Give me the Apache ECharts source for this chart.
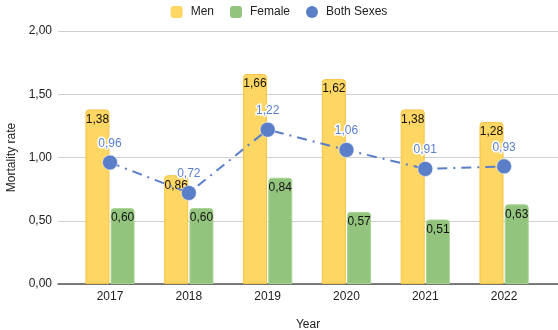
<!DOCTYPE html>
<html>
<head>
<meta charset="utf-8">
<script src="https://cdn.jsdelivr.net/npm/echarts@6/dist/echarts.min.js"></script>
<style>html,body{margin:0;padding:0;background:#fff}#c{width:558px;height:330px}</style>
</head>
<body>
<div id="c"></div>
<script>
const years = ['2017','2018','2019','2020','2021','2022'];
const men = [1.38, 0.86, 1.66, 1.62, 1.38, 1.28];
const female = [0.60, 0.60, 0.84, 0.57, 0.51, 0.63];
const both = [0.96, 0.72, 1.22, 1.06, 0.91, 0.93];
const yTicks = [0, 0.5, 1, 1.5, 2];

const fmt = v => Number(v).toFixed(2).replace('.', ',');
const FONT = 'Liberation Sans, Arial, sans-serif';
const chart = echarts.init(document.getElementById('c'));
chart.setOption({
  animation: false,
  textStyle: { fontFamily: FONT },
  legend: {
    top: 1, left: 'center', itemWidth: 12, itemHeight: 12, itemGap: 16,
    textStyle: { fontSize: 12, color: '#222', fontFamily: FONT, padding: [0, 0, 0, 3] },
    itemStyle: { borderWidth: 0 },
    data: [
      { name: 'Men', icon: 'roundRect' },
      { name: 'Female', icon: 'roundRect' },
      { name: 'Both Sexes', icon: 'circle' }
    ]
  },
  grid: [
    { left: 58, right: 0, top: 31, bottom: 46, outerBoundsMode: 'none', containLabel: false },
    { left: 70.6, right: 14.5, top: 31, bottom: 46, outerBoundsMode: 'none', containLabel: false }
  ],
  xAxis: [
    { type: 'category', gridIndex: 0, data: [''],
      axisLine: { show: true, lineStyle: { color: '#555', width: 1.5 } },
      axisTick: { show: false }, axisLabel: { show: false },
      name: 'Year', nameLocation: 'middle', nameGap: 35,
      nameTextStyle: { fontSize: 12, color: '#222', fontFamily: FONT } },
    { type: 'category', gridIndex: 1, data: years,
      axisLine: { show: false }, axisTick: { show: false },
      axisLabel: { margin: 7, fontSize: 12, color: '#222', fontFamily: FONT } }
  ],
  yAxis: [
    { type: 'value', gridIndex: 0, min: yTicks[0], max: yTicks[yTicks.length-1], interval: 0.5,
      axisLine: { show: false }, axisTick: { show: false },
      axisLabel: { margin: 6, fontSize: 12, color: '#222', fontFamily: FONT, formatter: fmt },
      splitLine: { lineStyle: { color: '#d0d0d0', width: 1 } },
      name: 'Mortality rate', nameLocation: 'middle', nameGap: 40, nameRotate: 90,
      nameTextStyle: { fontSize: 12, color: '#222', fontFamily: FONT } },
    { type: 'value', gridIndex: 1, min: yTicks[0], max: yTicks[yTicks.length-1], interval: 0.5, show: false,
      splitLine: { show: false } }
  ],
  series: [
    { name: 'Men', type: 'bar', xAxisIndex: 1, yAxisIndex: 1, data: men,
      barWidth: 24, barGap: '5%',
      itemStyle: { color: '#fdd663', borderColor: '#f5c443', borderWidth: 1, borderRadius: [3,3,0,0] },
      label: { show: true, position: 'insideTop', distance: 4, fontSize: 12, color: '#111', fontFamily: FONT, formatter: p => fmt(p.value) } },
    { name: 'Female', type: 'bar', xAxisIndex: 1, yAxisIndex: 1, data: female,
      barWidth: 24, barGap: '5%',
      itemStyle: { color: '#93c47d', borderColor: '#a8d493', borderWidth: 1, borderRadius: [3,3,0,0] },
      label: { show: true, position: 'insideTop', distance: 4, fontSize: 12, color: '#111', fontFamily: FONT, formatter: p => fmt(p.value) } },
    { name: 'Both Sexes', type: 'line', xAxisIndex: 1, yAxisIndex: 1, data: both, z: 5,
      symbol: 'circle', symbolSize: 15,
      itemStyle: { color: '#5a7ec8', borderColor: '#ffffff', borderWidth: 0.5 },
      lineStyle: { color: '#5a7ec8', width: 2, type: [10, 6, 2, 6] },
      label: { show: true, position: 'top', distance: 5, fontSize: 12, color: '#5b80cc', fontFamily: FONT,
        textBorderColor: '#ffffff', textBorderWidth: 3, formatter: p => fmt(p.value) } }
  ]
});
</script>
</body>
</html>
